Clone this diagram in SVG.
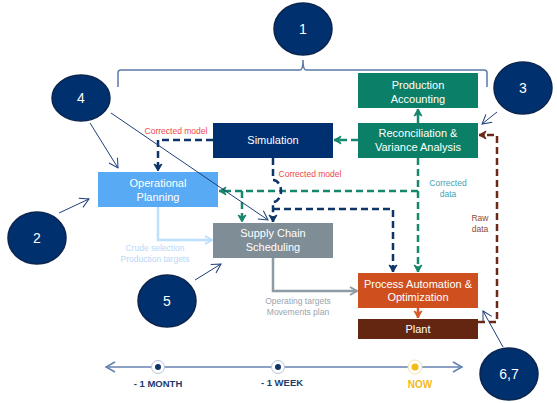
<svg xmlns="http://www.w3.org/2000/svg" width="557" height="403" viewBox="0 0 557 403">
<style>
.box text{font-family:"Liberation Sans",Arial,sans-serif;font-size:11px;fill:#fff;text-anchor:middle}
.num{font-family:"Liberation Sans",Arial,sans-serif;font-size:14px;fill:#fff;text-anchor:middle}
.badge ellipse{fill:#00306e;stroke:#0b254f;stroke-width:1.5}
.lbl{font-family:"Liberation Sans",Arial,sans-serif;font-size:8.5px;text-anchor:middle}
.tl{font-family:"Liberation Sans",Arial,sans-serif;font-size:9.5px;font-weight:bold;text-anchor:middle}
.dash{fill:none;stroke-width:2.5;stroke-dasharray:7 4}
.thin{fill:none;stroke:#1f3f7a;stroke-width:1}
</style>
<defs>
<marker id="aNavy" markerUnits="userSpaceOnUse" markerWidth="10" markerHeight="10" refX="8" refY="5" orient="auto"><path d="M1,1 L8,5 L1,9 L3,5 z" fill="#0e3468" stroke="#0e3468" stroke-width="1"/></marker>
<marker id="aGreen" markerUnits="userSpaceOnUse" markerWidth="10" markerHeight="10" refX="8" refY="5" orient="auto"><path d="M1,1 L8,5 L1,9 L3,5 z" fill="#16866c" stroke="#16866c" stroke-width="1"/></marker>
<marker id="aBrown" markerUnits="userSpaceOnUse" markerWidth="10" markerHeight="10" refX="8" refY="5" orient="auto"><path d="M1,1 L8,5 L1,9 L3,5 z" fill="#6b2a17" stroke="#6b2a17" stroke-width="1"/></marker>
<marker id="aOrange" markerUnits="userSpaceOnUse" markerWidth="10" markerHeight="10" refX="8" refY="5" orient="auto"><path d="M1,1 L8,5 L1,9 L3,5 z" fill="#d85a2a" stroke="#d85a2a" stroke-width="1"/></marker>
<marker id="aGray" markerUnits="userSpaceOnUse" markerWidth="10" markerHeight="10" refX="8" refY="5" orient="auto"><path d="M1,1 L8,5 L1,9" fill="none" stroke="#8d9ba5" stroke-width="2"/></marker>
<marker id="aLight" markerUnits="userSpaceOnUse" markerWidth="10" markerHeight="10" refX="8" refY="5" orient="auto"><path d="M1,1 L8,5 L1,9" fill="none" stroke="#bde0fd" stroke-width="2"/></marker>
<marker id="aThin" markerUnits="userSpaceOnUse" markerWidth="12" markerHeight="12" refX="10" refY="6" orient="auto"><path d="M1,1 L10,6 L1,11" fill="none" stroke="#1f3f7a" stroke-width="1"/></marker>
<marker id="aTl" markerUnits="userSpaceOnUse" markerWidth="12" markerHeight="12" refX="10" refY="6" orient="auto-start-reverse"><path d="M1,1 L10,6 L1,11" fill="none" stroke="#6481b0" stroke-width="1.5"/></marker>
</defs>
<rect width="557" height="403" fill="#fff"/>

<!-- brace -->
<path d="M118,87 V73 Q118,70 121,70 H300 Q303,70 303,60 Q303,70 306,70 H484 Q487,70 487,73 V87" fill="none" stroke="#5a7aa8" stroke-width="1.5"/>

<g id="connectors">
  <path d="M418,123 V109" fill="none" stroke="#16866c" stroke-width="2.5" marker-end="url(#aGreen)"/>
  <path class="dash" d="M358,140 H334" stroke="#16866c" marker-end="url(#aGreen)"/>
  <path class="dash" d="M213,140 H158 V171" stroke="#0e3468" marker-end="url(#aNavy)"/>
  <path class="dash" d="M418,158 V272" stroke="#16866c" marker-end="url(#aGreen)"/>
  <path class="dash" d="M418,191 H219" stroke="#16866c" marker-end="url(#aGreen)"/>
  <path class="dash" d="M242,191 V222" stroke="#16866c" marker-end="url(#aGreen)"/>
  <path class="dash" d="M273,158 V180 A8,11 0 0 1 273,202 V222" stroke="#0e3468" marker-end="url(#aNavy)"/>
  <path class="dash" d="M273,209 H393 V272" stroke="#0e3468" marker-end="url(#aNavy)"/>
  <path class="dash" d="M478,322 H497 V135 H479" stroke="#6b2a17" marker-end="url(#aBrown)"/>
  <path d="M158,207 V240 H212" fill="none" stroke="#bde0fd" stroke-width="2.5" marker-end="url(#aLight)"/>
  <path d="M273,258 V291 H357" fill="none" stroke="#8d9ba5" stroke-width="2.5" marker-end="url(#aGray)"/>
  <path d="M418,308 V318" fill="none" stroke="#d85a2a" stroke-width="2.5" marker-end="url(#aOrange)"/>

  <text class="lbl" x="176" y="134" fill="#f04848">Corrected model</text>
  <text class="lbl" x="310" y="177" fill="#f04848">Corrected model</text>
  <text class="lbl" x="448" y="186" fill="#3fa3b5">Corrected</text>
  <text class="lbl" x="448" y="197" fill="#3fa3b5">data</text>
  <text class="lbl" x="480" y="221" fill="#8b4a3a">Raw</text>
  <text class="lbl" x="480" y="232" fill="#8b4a3a">data</text>
  <text class="lbl" x="155" y="251" fill="#b8d8f8">Crude selection</text>
  <text class="lbl" x="155" y="262" fill="#b8d8f8">Production targets</text>
  <text class="lbl" x="298" y="304" fill="#9aa5ae">Operating targets</text>
  <text class="lbl" x="298" y="315" fill="#9aa5ae">Movements plan</text>
</g>

<g id="production-accounting" class="box"><rect x="358" y="73" width="120" height="35" fill="#0b7f67"/><text x="418" y="88.5">Production</text><text x="418" y="102.5">Accounting</text></g>
<g id="simulation" class="box"><rect x="213" y="123" width="120" height="35" fill="#003070"/><text x="273" y="144">Simulation</text></g>
<g id="reconciliation" class="box"><rect x="358" y="123" width="120" height="35" fill="#0b7f67"/><text x="418" y="137">Reconciliation &amp;</text><text x="418" y="151">Variance Analysis</text></g>
<g id="operational-planning" class="box"><rect x="98" y="172" width="120" height="35" fill="#59aaf5"/><text x="158" y="187">Operational</text><text x="158" y="201">Planning</text></g>
<g id="supply-chain" class="box"><rect x="213" y="223" width="120" height="35" fill="#7f8d96"/><text x="273" y="237">Supply Chain</text><text x="273" y="251">Scheduling</text></g>
<g id="process-automation" class="box"><rect x="358" y="273" width="120" height="35" fill="#cf4f1f"/><text x="418" y="288">Process  Automation &amp;</text><text x="418" y="301">Optimization</text></g>
<g id="plant" class="box"><rect x="358" y="319" width="120" height="20" fill="#652611"/><text x="418" y="333">Plant</text></g>

<g id="callouts">
  <path class="thin" d="M90,123 L118,168" marker-end="url(#aThin)"/>
  <path class="thin" d="M111,113 L268,220" marker-end="url(#aThin)"/>
  <path class="thin" d="M59,213 L89,199" marker-end="url(#aThin)"/>
  <path class="thin" d="M195,280 L221,264" marker-end="url(#aThin)"/>
  <path class="thin" d="M497,112 L482,124" marker-end="url(#aThin)"/>
  <path class="thin" d="M503,347 L483,311" marker-end="url(#aThin)"/>
</g>

<g id="badge-1" class="badge"><ellipse cx="303" cy="29" rx="29" ry="26"/><text class="num" x="303" y="34">1</text></g>
<g id="badge-2" class="badge"><ellipse cx="37" cy="238" rx="29" ry="26"/><text class="num" x="37" y="243">2</text></g>
<g id="badge-3" class="badge"><ellipse cx="523" cy="88" rx="29" ry="26"/><text class="num" x="523" y="93">3</text></g>
<g id="badge-4" class="badge"><ellipse cx="81" cy="98" rx="29" ry="23"/><text class="num" x="81" y="103">4</text></g>
<g id="badge-5" class="badge"><ellipse cx="167" cy="301" rx="29" ry="26"/><text class="num" x="167" y="306">5</text></g>
<g id="badge-67" class="badge"><ellipse cx="509" cy="374" rx="29" ry="26"/><text class="num" x="509" y="379">6,7</text></g>

<g id="timeline">
  <path d="M106,367 H462" fill="none" stroke="#6481b0" stroke-width="1.5" marker-start="url(#aTl)" marker-end="url(#aTl)"/>
  <circle cx="158" cy="367" r="6.5" fill="#fff" stroke="#b6c3da" stroke-width="1"/><circle cx="158" cy="367" r="3" fill="#0e3468"/>
  <circle cx="278" cy="367" r="6.5" fill="#fff" stroke="#b6c3da" stroke-width="1"/><circle cx="278" cy="367" r="3" fill="#0e3468"/>
  <circle cx="415" cy="367" r="7" fill="#fff" stroke="#f8e2a0" stroke-width="1"/><circle cx="415" cy="367" r="3.5" fill="#f4b914"/>
  <text class="tl" x="158" y="387" fill="#1d3a6b">- 1 MONTH</text>
  <text class="tl" x="282" y="386" fill="#1d3a6b">- 1 WEEK</text>
  <text class="tl" x="420" y="388" fill="#f4b914" style="font-size:10px">NOW</text>
</g>
</svg>
